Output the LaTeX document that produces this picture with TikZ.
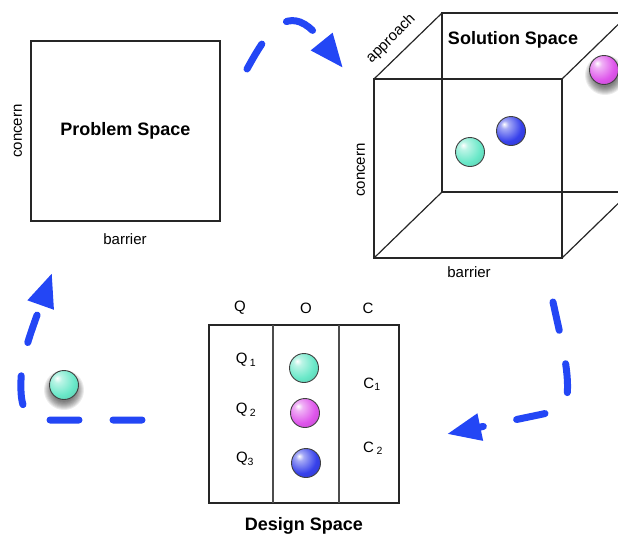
\documentclass[tikz,border=0pt]{standalone}
\usepackage{fontspec}
\setmainfont{Liberation Sans}
\usetikzlibrary{arrows.meta}

\definecolor{flowblue}{RGB}{35,70,245}
\definecolor{ballA}{RGB}{105,232,200}
\definecolor{ballM}{RGB}{222,85,235}
\definecolor{ballB}{RGB}{55,65,235}

% glossy sphere shadings, highlight towards the upper left
\pgfdeclareradialshading{shadeA}{\pgfpoint{-12bp}{12bp}}{color(0bp)=(white); color(7bp)=(ballA!45!white); color(26bp)=(ballA); color(48bp)=(ballA!80!black); color(80bp)=(ballA!60!black)}
\pgfdeclareradialshading{shadeM}{\pgfpoint{-12bp}{12bp}}{color(0bp)=(white); color(7bp)=(ballM!45!white); color(26bp)=(ballM); color(48bp)=(ballM!80!black); color(80bp)=(ballM!60!black)}
\pgfdeclareradialshading{shadeB}{\pgfpoint{-12bp}{12bp}}{color(0bp)=(white); color(7bp)=(ballB!45!white); color(26bp)=(ballB); color(48bp)=(ballB!80!black); color(80bp)=(ballB!60!black)}

\begin{document}
\begin{tikzpicture}[x=1pt,y=-1pt,
  lbl/.style={font=\fontsize{15}{18}\selectfont, inner sep=0pt},
  title/.style={font=\bfseries\fontsize{18}{21}\selectfont, inner sep=0pt},
  frame/.style={draw=black!85, line width=1.2pt},
  divider/.style={draw=black!70, line width=1.2pt},
  ball/.style={circle, draw=black!75, line width=0.9pt, minimum size=29pt, inner sep=0pt, shade},
  flow/.style={draw=flowblue, line width=7pt, line cap=round,
    dash pattern=on 29pt off 34pt,
    -{Triangle[length=34pt,width=26pt]}},
]
\useasboundingbox (0,0) rectangle (618,536);
\clip (0,0) rectangle (618,536);

% ---------- problem space ----------
\node[frame, minimum width=189pt, minimum height=180pt, inner sep=0pt] (problem) at (125.5,131) {};
\node[title] (ptitle) at (problem.center) {Problem Space};
\node[lbl] (pbar) at (125,239) {barrier};
\node[lbl, rotate=90] (pcon) at (18,131) {concern};

% ---------- solution space (cube) ----------
\coordinate (f1) at (374,79);
\coordinate (f2) at (562,79);
\coordinate (f3) at (562,258);
\coordinate (f4) at (374,258);
\coordinate (b1) at (442,13);
\coordinate (b2) at (630,13);
\coordinate (b3) at (630,192);
\coordinate (b4) at (442,192);
\draw[frame] (b1) -- (b2) -- (b3) -- (b4) -- cycle;
\draw[frame] (f1) -- (b1) (f2) -- (b2) (f3) -- (b3) (f4) -- (b4);
\draw[frame] (f1) -- (f2) -- (f3) -- (f4) -- cycle;
\node[title] (stitle) at (513,40) {Solution Space};
\node[lbl] (sbar) at (469,272) {barrier};
\node[lbl, rotate=90] (scon) at (361,170) {concern};
\node[lbl, rotate=45] (sapp) at (391,39) {approach};

% soft shadow under the loose magenta sphere
\foreach \r in {12,13,...,20}
  \fill[black, opacity=0.075] (605,75) circle (\r);
\node[ball, shading=shadeA] (s1) at (470,152) {};
\node[ball, shading=shadeB] (s2) at (511,131) {};
\node[ball, shading=shadeM] (s3) at (604,70) {};

% ---------- design space ----------
\node[frame, minimum width=190pt, minimum height=178pt, inner sep=0pt] (design) at (304,414) {};
\coordinate (d1t) at (273,325);
\coordinate (d1b) at (273,503);
\coordinate (d2t) at (339,325);
\coordinate (d2b) at (339,503);
\draw[divider] (d1t) -- (d1b) (d2t) -- (d2b);
\node[lbl] (hq) at (240,308) {Q};
\node[lbl] (ho) at (306,308) {O};
\node[lbl] (hc) at (368,308) {C};
\node[lbl] (q1) at (246,360) {Q\,\textsubscript{1}};
\node[lbl] (q2) at (246,410) {Q\,\textsubscript{2}};
\node[lbl] (q3) at (245,459) {Q\textsubscript{3}};
\node[lbl] (c1) at (372,384) {C\textsubscript{1}};
\node[lbl] (c2) at (373,448) {C\,\textsubscript{2}};
\node[ball, shading=shadeA] (o1) at (304,368) {};
\node[ball, shading=shadeM] (o2) at (305,413) {};
\node[ball, shading=shadeB] (o3) at (306,463) {};
\node[title] (dtitle) at (304,526) {Design Space};

% ---------- loose sphere with shadow ----------
\foreach \r in {12,13,...,20}
  \fill[black, opacity=0.075] (64,390) circle (\r);
\node[ball, shading=shadeA] (loose) at (64,385) {};

% ---------- cycle arrows ----------
\coordinate (a1s) at (247,69);
\coordinate (a1e) at (343,68);
\draw[flow] (a1s) .. controls (262,42) and (278,14) .. (300,22)
  .. controls (313,27) and (322,42) .. (a1e);

\coordinate (a2s) at (553,302);
\coordinate (a2e) at (447,434);
\draw[flow] (a2s) .. controls (560,335) and (570,372) .. (567,396)
  .. controls (565,410) and (555,411) .. (543,414) -- (a2e);

\coordinate (a3s) at (142,420);
\coordinate (a3e) at (52,273);
\draw[flow] (a3s) -- (48,420) .. controls (25,420) and (20,408) .. (21,380)
  .. controls (22,355) and (30,335) .. (a3e);
\end{tikzpicture}
\end{document}
